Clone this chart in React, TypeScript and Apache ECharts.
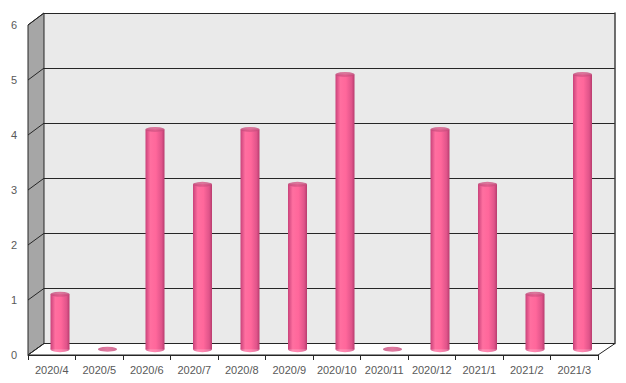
import React, { useEffect, useRef } from "react";
import * as echarts from "echarts";

const categories = ["2020/4", "2020/5", "2020/6", "2020/7", "2020/8", "2020/9", "2020/10", "2020/11", "2020/12", "2021/1", "2021/2", "2021/3"];
const values = [1, 0, 4, 3, 4, 3, 5, 0, 4, 3, 1, 5];
const yMin = 0;
const yMax = 6;
const yStep = 1;

const W = 626;
const H = 383;
// front (axis) plane
const FL = 28, FR = 598, FT = 25, FB = 355;
// back wall plane
const BL = 44, BR = 615, BT = 13, BB = 343.5;
// middle plane (bars)
const ML = 36.25, MR = 606.25, MT = 19.5, MB = 349.2;

const FONT = "Liberation Sans";

export default function App() {
  const ref = useRef<HTMLDivElement>(null);
  useEffect(() => {
    if (!ref.current) return;
    const chart = echarts.init(ref.current, undefined, { renderer: "svg" });
    const ticks: number[] = [];
    for (let v = yMin; v <= yMax; v += yStep) ticks.push(v);
    const fy = (v: number) => FB - ((v - yMin) / (yMax - yMin)) * (FB - FT);
    const by = (v: number) => BB - ((v - yMin) / (yMax - yMin)) * (BB - BT);

    const graphics: any[] = [
      {
        type: "polygon",
        z: 1,
        shape: { points: [[FL, FT], [BL, BT], [BL, BB], [FL, FB]] },
        style: { fill: "#a6a6a6", stroke: "#262626", lineWidth: 1 },
      },
      {
        type: "polygon",
        z: 1,
        shape: { points: [[FL, FB], [BL, BB], [BR, BB], [FR, FB]] },
        style: { fill: "#ffffff", stroke: "#262626", lineWidth: 1 },
      },
      ...ticks.map((v) => ({
        type: "line",
        z: 1,
        shape: { x1: FL, y1: fy(v), x2: BL, y2: by(v) },
        style: { stroke: "#262626", lineWidth: 1 },
      })),
    ];

    const bodyGrad = new echarts.graphic.LinearGradient(0, 0, 1, 0, [
      { offset: 0, color: "#c9427a" },
      { offset: 0.25, color: "#ff6fa0" },
      { offset: 0.55, color: "#ff679b" },
      { offset: 0.85, color: "#e0548a" },
      { offset: 1, color: "#b83c6e" },
    ]);
    const topGrad = new echarts.graphic.LinearGradient(0, 0, 1, 0, [
      { offset: 0, color: "#c24a7a" },
      { offset: 0.5, color: "#d95888" },
      { offset: 1, color: "#c24a7a" },
    ]);

    chart.setOption({
      animation: false,
      graphic: graphics,
      grid: [
        { left: BL, right: W - BR, top: BT, bottom: H - BB, show: true, backgroundColor: "#eaeaea", borderWidth: 0, z: 0 },
        { left: FL, right: W - FR, top: FT, bottom: H - FB },
        { left: ML, right: W - MR, top: MT, bottom: H - MB },
      ],
      xAxis: [
        { gridIndex: 0, type: "category", data: categories, show: false },
        {
          gridIndex: 1,
          type: "category",
          data: categories,
          z: 3,
          axisLine: { show: true, lineStyle: { color: "#262626", width: 1 } },
          axisTick: { show: true, length: 5, lineStyle: { color: "#262626" } },
          axisLabel: { interval: 0, color: "#595959", fontSize: 11, fontFamily: FONT, margin: 9 },
          splitLine: { show: false },
        },
        { gridIndex: 2, type: "category", data: categories, show: false },
      ],
      yAxis: [
        {
          gridIndex: 0,
          type: "value",
          min: yMin,
          max: yMax,
          interval: yStep,
          position: "right",
          axisLine: { show: true, lineStyle: { color: "#404040", width: 1.5 } },
          axisTick: { show: false },
          axisLabel: { show: false },
          splitLine: { show: true, lineStyle: { color: "#262626", width: 1 } },
        },
        {
          gridIndex: 1,
          type: "value",
          min: yMin,
          max: yMax,
          interval: yStep,
          axisLine: { show: false },
          axisTick: { show: false },
          axisLabel: { color: "#595959", fontSize: 11, fontFamily: FONT, margin: 11 },
          splitLine: { show: false },
        },
        { gridIndex: 2, type: "value", min: yMin, max: yMax, interval: yStep, show: false, splitLine: { show: false } },
      ],
      series: [
        {
          type: "scatter",
          xAxisIndex: 2,
          yAxisIndex: 2,
          data: values.map((v) => (v > 0 ? 0 : null)),
          symbol: "circle",
          symbolSize: [19, 6],
          itemStyle: { color: bodyGrad },
          z: 4,
          silent: true,
        },
        {
          type: "bar",
          xAxisIndex: 2,
          yAxisIndex: 2,
          data: values,
          barWidth: 19,
          itemStyle: { color: bodyGrad },
          z: 5,
          silent: true,
        },
        {
          type: "scatter",
          xAxisIndex: 2,
          yAxisIndex: 2,
          data: values,
          symbol: "circle",
          symbolSize: [19, 5],
          itemStyle: { color: topGrad },
          z: 6,
          silent: true,
        },
      ],
    });
    return () => chart.dispose();
  }, []);
  return <div ref={ref} style={{ width: W, height: H, margin: -8 }} />;
}
